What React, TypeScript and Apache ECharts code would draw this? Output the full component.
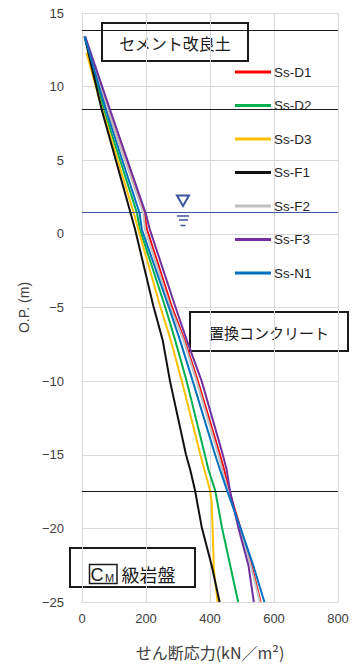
import React, { useEffect, useRef } from "react";
import * as echarts from "echarts";

// Shear stress (kN/m2) vs elevation O.P. (m)
const depths = [13.4, 8.4, 1.4, 0.3, -4.9, -7.2, -10, -15, -16, -17.4, -19.9, -22.5, -25];
const depthsD3 = [12.3, 8.4, 1.4, 0.3, -4.9, -7.2, -10, -15, -16, -17.4, -18.2, -19.9, -22.8, -25];

const seriesNames = ["Ss-D1", "Ss-D2", "Ss-D3", "Ss-F1", "Ss-F2", "Ss-F3", "Ss-N1"];
const seriesColors = ["#FF0000", "#00B050", "#FFC000", "#111111", "#C0C0C0", "#7030A0", "#0070C0"];

const valD1 = [9, 81, 194, 203, 280, 320, 362, 431, 444, 459, 494, 530, 558];
const valD2 = [9, 69, 172, 181, 259, 291, 327, 384, 395, 416, 437, 463, 488];
const valD3 = [14, 64, 162, 176, 244, 277, 312, 370, 382, 400, 405, 408, 412, 424];
const valF1 = [8, 62, 152, 166, 223, 252, 275, 325, 338, 353, 374, 405, 430];
const valF2 = [9, 81, 192, 197, 275, 317, 358, 426, 438, 456, 491, 527, 556];
const valF3 = [10, 88, 199, 212, 291, 327, 374, 440, 452, 462, 488, 520, 537];
const valN1 = [8, 75, 180, 187, 270, 306, 346, 416, 431, 453, 494, 535, 570];

const seriesValues = [valD1, valD2, valD3, valF1, valF2, valF3, valN1];
const seriesDepths = [depths, depths, depthsD3, depths, depths, depths, depths];

// layer boundaries (O.P. m)
const layerBoundaries = [13.8, 8.45, -17.45];
const waterLevel = 1.45;

const xTicks = { min: 0, max: 800, interval: 200 };
const yTicks = { min: -25, max: 15, interval: 5 };

const FONT = "'Liberation Sans', 'Noto Sans CJK JP', sans-serif";
const JP = "'Noto Sans CJK JP', sans-serif";
const TXT = "#404040";
const GRID = "#D9D9D9";
const WATER = "#3A56A0";

function labelBox(x: number, y: number, w: number, h: number, text: string, fs: number) {
  return {
    type: "group",
    z: 100,
    children: [
      { type: "rect", shape: { x, y, width: w, height: h }, style: { fill: "#fff", stroke: "#1a1a1a", lineWidth: 2 } },
      {
        type: "text",
        x: x + w / 2,
        y: y + h / 2 + 1,
        style: { text, fill: "#1a1a1a", fontSize: fs, fontFamily: JP, align: "center", verticalAlign: "middle" },
      },
    ],
  };
}

export default function App() {
  const ref = useRef<HTMLDivElement>(null);
  useEffect(() => {
    if (!ref.current) return;
    const chart = echarts.init(ref.current, null, { renderer: "svg" });
    const fmt = (v: number) => String(v).replace("-", "\u2212");
    const series = seriesNames.map((name, i) => ({
      name,
      type: "line",
      symbol: "none",
      smooth: false,
      data: seriesValues[i].map((v, k) => [v, seriesDepths[i][k]]),
      lineStyle: { color: seriesColors[i], width: 2 },
      itemStyle: { color: seriesColors[i] },
      z: 2 + i,
      ...(i === 0
        ? {
            markLine: {
              silent: true,
              symbol: ["none", "none"],
              label: { show: false },
              lineStyle: { type: "solid", width: 1, color: "#1a1a1a" },
              data: [
                ...layerBoundaries.map((b) => ({ yAxis: b })),
                { yAxis: waterLevel, lineStyle: { color: WATER, type: "solid", width: 1 } },
              ],
            },
          }
        : {}),
    }));
    chart.setOption({
      animation: false,
      textStyle: { fontFamily: FONT },
      grid: { left: 82, right: 19, top: 13, bottom: 68 },
      legend: {
        data: seriesNames,
        orient: "vertical",
        left: 235,
        top: 64,
        padding: 0,
        icon: "rect",
        itemWidth: 36,
        itemHeight: 3,
        itemGap: 17.5,
        textStyle: { fontSize: 13.5, lineHeight: 16, color: "#262626", fontFamily: FONT, padding: [0, 0, 0, -2] },
      },
      xAxis: {
        type: "value",
        ...xTicks,
        axisLine: { show: true, lineStyle: { color: GRID } },
        axisTick: { show: false },
        splitLine: { show: true, lineStyle: { color: GRID, width: 1 } },
        axisLabel: { color: TXT, fontSize: 13, margin: 10, fontFamily: FONT },
        name: "せん断応力(kN／m²)",
        nameLocation: "middle",
        nameGap: 42,
        nameTextStyle: { fontSize: 16, color: TXT, fontFamily: JP },
      },
      yAxis: {
        type: "value",
        ...yTicks,
        axisLine: { show: true, lineStyle: { color: GRID } },
        axisTick: { show: false },
        splitLine: { show: true, lineStyle: { color: GRID, width: 1 } },
        axisLabel: { color: TXT, fontSize: 13, margin: 18, fontFamily: FONT, formatter: fmt },
        name: "O.P. (m)",
        nameLocation: "middle",
        nameGap: 41,
        nameTextStyle: { fontSize: 14, color: TXT, fontFamily: FONT },
      },
      series,
      graphic: [
        labelBox(102, 23, 146, 38, "セメント改良土", 16),
        labelBox(190, 312, 158, 39, "置換コンクリート", 15),
        {
          type: "group",
          z: 100,
          children: [
            { type: "rect", shape: { x: 70, y: 548, width: 125, height: 39 }, style: { fill: "#fff", stroke: "#1a1a1a", lineWidth: 2 } },
            { type: "rect", shape: { x: 89.5, y: 564.5, width: 27.5, height: 19 }, style: { fill: "#fff", stroke: "#1a1a1a", lineWidth: 1.5 } },
            { type: "text", x: 97, y: 574.5, style: { text: "C", fill: "#1a1a1a", fontSize: 18, fontFamily: FONT, align: "center", verticalAlign: "middle" } },
            { type: "text", x: 109.5, y: 578, style: { text: "M", fill: "#1a1a1a", fontSize: 11, fontFamily: FONT, align: "center", verticalAlign: "middle" } },
            { type: "text", x: 148.5, y: 574, style: { text: "級岩盤", fill: "#1a1a1a", fontSize: 18, fontFamily: JP, align: "center", verticalAlign: "middle" } },
          ],
        },
        {
          type: "group",
          z: 100,
          children: [
            { type: "polygon", shape: { points: [[177, 195.5], [189, 195.5], [183, 206]] }, style: { fill: "none", stroke: WATER, lineWidth: 2 } },
            { type: "line", shape: { x1: 177, y1: 216, x2: 189, y2: 216 }, style: { stroke: WATER, lineWidth: 1.5 } },
            { type: "line", shape: { x1: 179, y1: 220, x2: 188, y2: 220 }, style: { stroke: WATER, lineWidth: 1.5 } },
            { type: "line", shape: { x1: 180.5, y1: 225.5, x2: 185.5, y2: 225.5 }, style: { stroke: WATER, lineWidth: 1.5 } },
          ],
        },
      ],
    });
    return () => chart.dispose();
  }, []);
  return <div ref={ref} style={{ position: "fixed", left: 0, top: 0, width: 357, height: 670, background: "#fff" }} />;
}
